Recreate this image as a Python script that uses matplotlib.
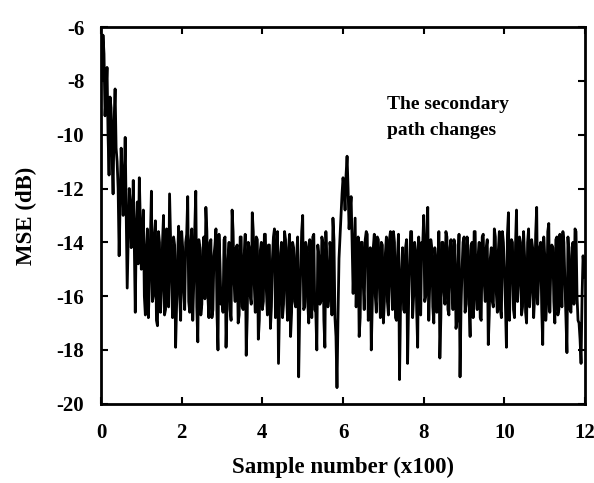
import numpy as np
import matplotlib
matplotlib.use("Agg")
import matplotlib.pyplot as plt

plt.rcParams['font.family'] = ['Liberation Serif', 'DejaVu Serif']
plt.rcParams['font.weight'] = 'bold'
plt.rcParams['axes.unicode_minus'] = False

# MSE (dB): values at every 0.05 (x100 samples)
mse_0_3 = [-7.0, -6.3, -9.3, -7.5, -11.5, -9.0, -12.2, -8.3, -11.0, -14.5,
           -10.5, -13.0, -10.1, -15.7, -12.0, -14.2, -11.7, -16.6, -12.5, -11.6,
           -15.0, -12.8, -16.7, -13.5, -15.5, -12.1, -16.0, -13.2, -17.1, -14.0,
           -15.8, -13.0, -16.5, -14.2, -12.2, -15.5, -13.8, -17.9, -14.5, -16.0,
           -13.6, -15.8, -14.0, -12.3, -16.6, -13.5, -15.5, -12.1, -17.7, -14.2,
           -16.3, -13.8, -12.7, -16.0, -14.0, -16.8, -14.5, -13.5, -18.0, -14.8]
mse_3_6 = [-16.2, -13.9, -17.9, -14.6, -16.5, -12.8, -15.5, -14.2, -17.0, -13.8,
           -16.4, -14.5, -18.2, -14.0, -16.0, -12.9, -15.6, -13.8, -17.6, -14.3,
           -16.5, -13.7, -15.8, -14.1, -17.2, -14.6, -13.5, -16.3, -18.5, -14.4,
           -16.8, -13.6, -15.9, -14.2, -17.5, -14.0, -16.2, -14.5, -19.0, -15.0,
           -13.0, -16.4, -14.2, -17.0, -14.6, -13.8, -16.5, -18.0, -14.5, -16.2,
           -14.0, -17.9, -14.8, -16.0, -14.3, -13.1, -16.8, -19.4, -14.6, -13.0]
mse_6_9 = [-11.6, -12.8, -10.8, -13.5, -12.3, -15.9, -13.1, -14.8, -17.5, -14.0,
           -15.5, -13.9, -13.7, -16.5, -18.0, -14.2, -16.0, -13.8, -15.6, -14.0,
           -17.0, -14.4, -16.2, -13.9, -15.5, -13.6, -16.8, -14.5, -19.1, -15.0,
           -16.5, -14.2, -18.5, -14.8, -13.6, -16.0, -14.3, -17.9, -15.2, -14.0,
           -13.0, -16.0, -12.7, -15.5, -14.2, -17.0, -14.6, -16.2, -18.3, -14.0,
           -15.8, -13.6, -16.5, -14.2, -15.5, -13.9, -17.2, -14.8, -19.0, -15.0]
mse_9_12 = [-13.8, -16.3, -14.3, -17.5, -14.0, -13.6, -16.0, -14.5, -16.8, -13.8,
            -15.5, -14.2, -17.8, -14.6, -16.2, -13.5, -15.9, -14.3, -16.5, -13.6,
            -15.0, -17.9, -12.9, -15.3, -14.0, -16.8, -12.8, -15.5, -14.0, -16.4,
            -14.5, -17.0, -13.5, -15.8, -14.2, -16.0, -12.7, -15.2, -14.0, -17.8,
            -14.5, -16.2, -13.3, -15.0, -14.2, -17.0, -13.8, -16.5, -14.6, -13.6,
            -15.5, -18.1, -14.5, -16.6, -14.0, -13.5, -16.0, -17.0, -18.5, -14.5,
            -15.3]

# values read halfway between the ones above (every 0.05, offset 0.025)
mid_0_3 = [-8.0, -7.0, -8.5, -10.0, -8.6, -10.8, -9.5, -10.5, -12.0, -12.5,
           -11.5, -11.8, -13.0, -13.8, -12.5, -13.5, -14.0, -13.5, -14.8, -13.2,
           -13.8, -16.0, -14.2, -16.8, -13.9, -16.2, -13.7, -16.9, -13.6, -16.6,
           -14.0, -16.7, -13.5, -16.4, -13.9, -16.8, -14.1, -16.3, -13.4, -16.9,
           -14.2, -16.5, -13.7, -16.2, -14.0, -16.9, -13.5, -16.4, -13.9, -16.7,
           -14.3, -16.1, -13.6, -16.8, -13.9, -16.5, -14.1, -16.6, -13.7, -16.3]
mid_3_6 = [-16.6, -13.8, -16.4, -14.0, -16.9, -13.6, -16.2, -14.1, -16.7, -13.8,
           -16.5, -13.7, -16.8, -14.2, -16.3, -13.6, -16.6, -13.9, -16.9, -14.0,
           -16.2, -13.7, -16.7, -14.1, -16.4, -13.8, -16.8, -13.6, -16.5, -14.0,
           -16.3, -13.9, -16.9, -13.7, -16.6, -14.2, -16.4, -13.8, -16.7, -13.6,
           -16.5, -14.0, -16.2, -13.9, -16.8, -13.7, -16.6, -14.1, -16.3, -13.8,
           -16.9, -13.6, -16.4, -14.0, -16.7, -13.9, -17.5, -16.8, -13.8, -12.2]
mid_6_9 = [-12.0, -11.5, -12.0, -12.8, -14.0, -14.5,
           -16.4, -13.8, -16.8, -14.0, -16.5, -13.6, -16.9, -14.2, -16.3, -13.7,
           -16.6, -13.9, -16.8, -14.1, -16.2, -13.8, -16.7, -13.6, -16.5, -14.0,
           -16.9, -13.7, -16.4, -14.2, -16.6, -13.9, -16.3, -13.6, -16.8, -14.0,
           -16.5, -13.8, -16.7, -14.1, -16.2, -13.7, -16.9, -13.9, -16.4, -14.2,
           -16.6, -13.6, -16.8, -14.0, -16.3, -13.8, -16.7, -13.9, -16.5, -14.1,
           -16.9, -13.7, -16.4, -14.0]
mid_9_12 = [-16.6, -13.8, -16.3, -14.1, -16.8, -13.6, -16.5, -14.0, -16.9, -13.7,
            -16.2, -13.9, -16.7, -14.2, -16.4, -13.8, -16.6, -13.6, -16.8, -14.0,
            -16.3, -13.7, -16.9, -13.9, -16.5, -14.1, -16.2, -13.8, -16.7, -13.6,
            -16.6, -14.0, -16.4, -13.9, -16.8, -13.7, -16.3, -14.2, -16.5, -13.8,
            -16.9, -13.6, -16.6, -14.1, -16.2, -13.9, -16.7, -13.7, -16.4, -14.0,
            -16.8, -13.8, -16.5, -14.2, -16.3, -13.6, -16.9, -17.6, -16.0, -15.0]

main = mse_0_3 + mse_3_6 + mse_6_9 + mse_9_12
mids = mid_0_3 + mid_3_6 + mid_6_9 + mid_9_12
mse = []
for a, b in zip(main, mids):
    mse += [a, b]
mse.append(main[-1])

x_max = 12
samples = np.linspace(0, x_max, len(mse))

xticks = [0, 2, 4, 6, 8, 10, 12]
yticks = [-20, -18, -16, -14, -12, -10, -8, -6]

fig = plt.figure(figsize=(5.94, 4.83), dpi=100)
ax = fig.add_axes([0.170, 0.164, 0.815, 0.780])
ax.plot(samples, mse, color='black', linewidth=2.0)
ax.set_xlim(0, 12)
ax.set_ylim(-20, -6)
ax.set_xticks(xticks)
ax.set_yticks(yticks)
ax.tick_params(direction='in', length=5, width=1.5, top=True, right=True,
               labelsize=15)
ax.tick_params(axis='x', pad=14)
ax.tick_params(axis='y', pad=12)
for lab in ax.get_xticklabels() + ax.get_yticklabels():
    lab.set_fontweight('bold')
for s in ax.spines.values():
    s.set_linewidth(2)
ax.set_xlabel('Sample number (x100)', fontsize=16.5, fontweight='bold', labelpad=10)
ax.set_ylabel('MSE (dB)', fontsize=16.5, fontweight='bold', labelpad=14)
ax.text(7.1, -9.35, 'The secondary\npath changes', fontsize=14, fontweight='bold',
        ha='left', va='center', linespacing=1.7)
fig.savefig('out.png', dpi=100)
